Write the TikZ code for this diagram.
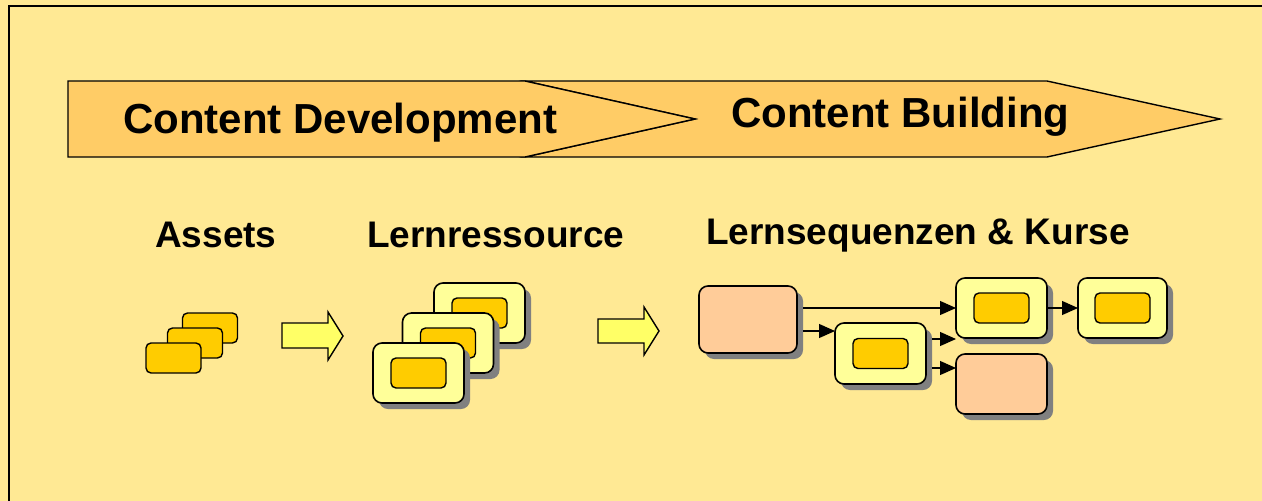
\documentclass[tikz,border=0pt]{standalone}
\usepackage{fontspec}
\setmainfont{Liberation Sans}
\usetikzlibrary{shadows,arrows.meta,calc}
\definecolor{bg}{RGB}{255,233,148}
\definecolor{banner}{RGB}{255,204,102}
\definecolor{gold}{RGB}{255,204,0}
\definecolor{cardy}{RGB}{255,255,153}
\definecolor{peachc}{RGB}{255,204,153}
\definecolor{arrowy}{RGB}{255,255,102}
\definecolor{shadowc}{RGB}{128,128,128}
\tikzset{
  shad/.style={drop shadow={shadow xshift=6pt, shadow yshift=-6pt, fill=shadowc, opacity=1}},
  asset/.style={draw, line width=1.4pt, fill=gold, rounded corners=5pt, minimum width=55pt, minimum height=30pt, inner sep=0pt, outer sep=0pt},
  card/.style={draw, line width=1.6pt, fill=cardy, rounded corners=9pt, minimum width=91pt, minimum height=60pt, inner sep=0pt, outer sep=0pt, shad},
  peach/.style={draw, line width=1.6pt, fill=peachc, rounded corners=9pt, inner sep=0pt, outer sep=0pt, shad},
  blockarrow/.style={draw, line width=1.4pt, fill=arrowy, line join=miter},
  bannerbox/.style={draw, line width=1.4pt, fill=banner, line join=miter},
  bigtitle/.style={font=\fontsize{42}{50}\selectfont\bfseries, inner sep=0pt, anchor=base west},
  label/.style={font=\fontsize{37}{44}\selectfont\bfseries, inner sep=0pt, anchor=base west},
  conn/.style={line width=1.2pt, -{Triangle[length=16pt, width=14pt]}}
}
\begin{document}
\begin{tikzpicture}[x=1pt,y=-1pt]
\useasboundingbox (0,0) rectangle (1262,501);
\fill[bg] (0,0) rectangle (1262,501);
\draw[line width=2pt] (9,501) -- (9,6) -- (1262,6);

% banner
\draw[bannerbox] (525,81) -- (1047,81) -- (1220,119) -- (1047,157) -- (525,157) -- (695,119) -- cycle;
\draw[bannerbox] (68,81) -- (525,81) -- (695,119) -- (525,157) -- (68,157) -- cycle;
\node[bigtitle] (cd) at (123,133) {Content Development};
\node[bigtitle] (cb) at (731,127) {Content Building};

% labels
\node[label] (lassets) at (155,247) {Assets};
\node[label] (lres) at (367,247) {Lernressource};
\node[label] (lseq) at (706,244) {Lernsequenzen \& Kurse};

% assets
\node[asset] (a3) at (210,328) {};
\node[asset] (a2) at (195,343) {};
\node[asset] (a1) at (173.5,358) {};

% block arrows
\draw[blockarrow] (282,323) -- (328,323) -- (328,312) -- (343,336) -- (328,360) -- (328,348) -- (282,348) -- cycle;
\draw[blockarrow] (598,319) -- (644,319) -- (644,307) -- (659,331) -- (644,355) -- (644,343) -- (598,343) -- cycle;

% Lernressource stack
\node[card] (r3) at (479.5,313) {};
\node[asset] (r3i) at (r3.center) {};
\node[card] (r2) at (448,343) {};
\node[asset] (r2i) at (r2.center) {};
\node[card] (r1) at (418.5,373) {};
\node[asset] (r1i) at (r1.center) {};

% sequences
\node[peach, minimum width=98pt, minimum height=67pt] (p1) at (748,319.5) {};
\node[card, minimum height=61pt] (cA) at (880.5,353.5) {};
\node[asset] (cAi) at (cA.center) {};
\node[card] (cB) at (1001.5,308) {};
\node[asset] (cBi) at (cB.center) {};
\node[card, minimum width=89pt] (cC) at (1122.5,308) {};
\node[asset] (cCi) at (cC.center) {};
\node[peach, minimum width=91pt, minimum height=60pt] (p2) at (1001.5,384) {};

\coordinate (inA) at ($(cA.north west)+(0,8)$);
\coordinate (inBlow) at ($(cB.south west)+(0,1)$);
\coordinate (inP2) at ($(p2.north west)+(0,14)$);
\coordinate (outP1a) at ($(p1.east |- cB.west)+(6,0)$);
\coordinate (outP1b) at ($(p1.east |- inA)+(6,0)$);
\coordinate (outAa) at ($(cA.east |- inBlow)+(6,0)$);
\coordinate (outAb) at ($(cA.east |- inP2)+(6,0)$);
\draw[conn] (outP1a) -- (cB.west);
\draw[conn] (outP1b) -- (inA);
\draw[conn] (outAa) -- (inBlow);
\draw[conn] (outAb) -- (inP2);
\draw[conn] (cB.east) -- (cC.west);
\end{tikzpicture}
\end{document}
